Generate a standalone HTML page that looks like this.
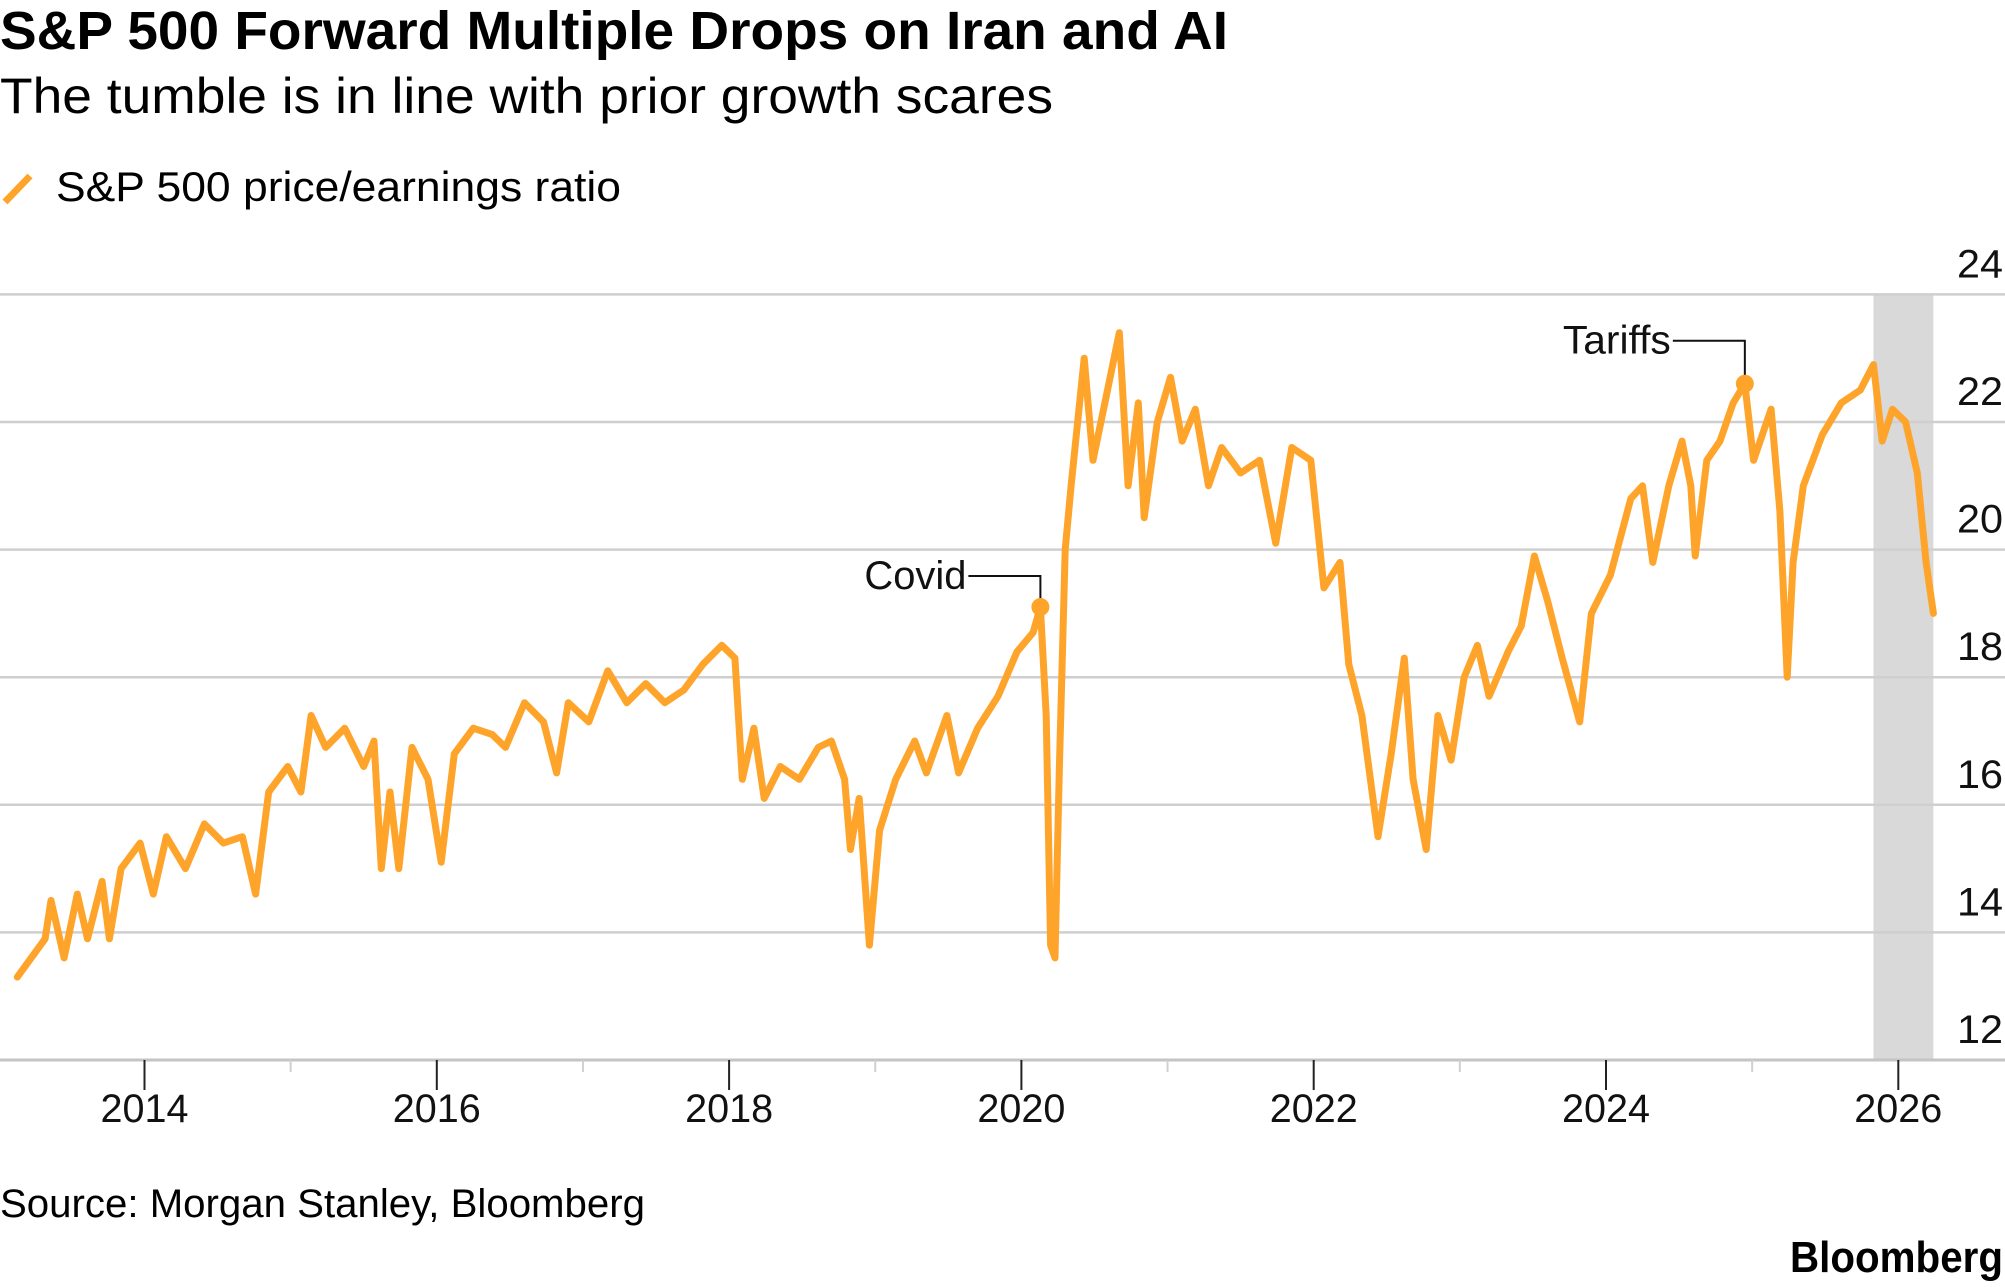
<!DOCTYPE html>
<html><head><meta charset="utf-8"><style>
html,body{margin:0;padding:0;background:#fff;}
svg{display:block;font-family:"Liberation Sans",sans-serif;}
</style></head><body>
<svg id="chart" width="2005" height="1287" viewBox="0 0 2005 1287">
<text x="0" y="49" font-size="54" font-weight="bold" textLength="1228" lengthAdjust="spacingAndGlyphs">S&amp;P 500 Forward Multiple Drops on Iran and AI</text>
<text x="0" y="113" font-size="50" textLength="1053" lengthAdjust="spacingAndGlyphs">The tumble is in line with prior growth scares</text>
<line x1="5" y1="202" x2="30" y2="176" stroke="#FFA42B" stroke-width="7"/>
<text x="56" y="201" font-size="42" textLength="565" lengthAdjust="spacingAndGlyphs">S&amp;P 500 price/earnings ratio</text>
<g id="grid"></g>
<g id="xaxis"></g>
<g id="series"></g>
<g id="annot"></g>
<text x="0" y="1217" font-size="40" textLength="645" lengthAdjust="spacingAndGlyphs">Source: Morgan Stanley, Bloomberg</text>
<text x="2003" y="1272" font-size="44" font-weight="bold" text-anchor="end" textLength="213" lengthAdjust="spacingAndGlyphs">Bloomberg</text>
</svg>
<script>
const dates=[2013.13,2013.32,2013.36,2013.45,2013.54,2013.61,2013.71,2013.76,2013.84,2013.97,2014.06,2014.15,2014.28,2014.41,2014.54,2014.67,2014.76,2014.85,2014.98,2015.07,2015.14,2015.24,2015.37,2015.50,2015.57,2015.62,2015.68,2015.74,2015.83,2015.94,2016.03,2016.12,2016.25,2016.38,2016.47,2016.60,2016.73,2016.82,2016.90,2017.04,2017.17,2017.30,2017.43,2017.56,2017.69,2017.82,2017.95,2018.04,2018.09,2018.17,2018.24,2018.35,2018.48,2018.61,2018.70,2018.79,2018.83,2018.89,2018.96,2019.03,2019.14,2019.27,2019.35,2019.49,2019.57,2019.70,2019.84,2019.97,2020.08,2020.13,2020.17,2020.20,2020.23,2020.26,2020.30,2020.34,2020.43,2020.49,2020.58,2020.67,2020.73,2020.80,2020.84,2020.93,2021.02,2021.10,2021.19,2021.28,2021.37,2021.50,2021.63,2021.74,2021.85,2021.98,2022.07,2022.18,2022.24,2022.33,2022.44,2022.53,2022.62,2022.68,2022.77,2022.85,2022.94,2023.03,2023.12,2023.20,2023.33,2023.42,2023.51,2023.60,2023.70,2023.82,2023.90,2024.03,2024.17,2024.25,2024.32,2024.43,2024.52,2024.58,2024.61,2024.69,2024.78,2024.87,2024.95,2025.01,2025.13,2025.19,2025.24,2025.28,2025.35,2025.48,2025.61,2025.74,2025.83,2025.89,2025.96,2026.05,2026.13,2026.19,2026.24];
const peRatio=[13.3,13.9,14.5,13.6,14.6,13.9,14.8,13.9,15.0,15.4,14.6,15.5,15.0,15.7,15.4,15.5,14.6,16.2,16.6,16.2,17.4,16.9,17.2,16.6,17.0,15.0,16.2,15.0,16.9,16.4,15.1,16.8,17.2,17.1,16.9,17.6,17.3,16.5,17.6,17.3,18.1,17.6,17.9,17.6,17.8,18.2,18.5,18.3,16.4,17.2,16.1,16.6,16.4,16.9,17.0,16.4,15.3,16.1,13.8,15.6,16.4,17.0,16.5,17.4,16.5,17.2,17.7,18.4,18.7,19.1,17.4,13.8,13.6,16.6,20.0,21.0,23.0,21.4,22.4,23.4,21.0,22.3,20.5,22.0,22.7,21.7,22.2,21.0,21.6,21.2,21.4,20.1,21.6,21.4,19.4,19.8,18.2,17.4,15.5,16.8,18.3,16.4,15.3,17.4,16.7,18.0,18.5,17.7,18.4,18.8,19.9,19.2,18.3,17.3,19.0,19.6,20.8,21.0,19.8,21.0,21.7,21.0,19.9,21.4,21.7,22.3,22.6,21.4,22.2,20.6,18.0,19.8,21.0,21.8,22.3,22.5,22.9,21.7,22.2,22.0,21.2,19.8,19.0];
const yTicks=[12,14,16,18,20,22,24];
const xTickYears=[2014,2016,2018,2020,2022,2024,2026];
const minorYears=[2015,2017,2019,2021,2023,2025];
const shadeRange=[2025.83,2026.24];
const annotations=[{label:"Covid",date:2020.13,value:19.1},{label:"Tariffs",date:2024.95,value:22.6}];

const NS="http://www.w3.org/2000/svg";
const X=yr=>144.5+(yr-2014)*146.15;
const Y=v=>1060-(v-12)*63.8;
function mk(tag,attrs,parent){const e=document.createElementNS(NS,tag);for(const k in attrs)e.setAttribute(k,attrs[k]);parent.appendChild(e);return e;}
const grid=document.getElementById('grid'),xa=document.getElementById('xaxis'),ser=document.getElementById('series'),an=document.getElementById('annot');

const sh=mk('rect',{x:X(shadeRange[0]),y:Y(24),width:X(shadeRange[1])-X(shadeRange[0]),height:Y(12)-Y(24),fill:'#d9d9d9'},grid);



yTicks.forEach(t=>{
  if(t>12){const l=mk('line',{x1:0,x2:2005,y1:Y(t),y2:Y(t),stroke:'#cfcfcf','stroke-width':2.5},grid);
  
  }
  const tx=mk('text',{x:2003,y:Y(t)-17,'font-size':40,'text-anchor':'end',fill:'#111',textLength:46,lengthAdjust:'spacingAndGlyphs'},grid);
  tx.textContent=t;
  
  
});
const ax=mk('line',{x1:0,x2:2005,y1:Y(12),y2:Y(12),stroke:'#c4c4c4','stroke-width':3},xa);


xTickYears.forEach(yr=>{
  const l=mk('line',{x1:X(yr),x2:X(yr),y1:Y(12),y2:Y(12)+30,stroke:'#222','stroke-width':2},xa);
  
  
  const t=mk('text',{x:X(yr),y:1122,'font-size':40,'text-anchor':'middle',fill:'#111',textLength:88,lengthAdjust:'spacingAndGlyphs'},xa);
  t.textContent=yr;
  
  
});
minorYears.forEach(yr=>{
  const l=mk('line',{x1:X(yr),x2:X(yr),y1:Y(12),y2:Y(12)+12,stroke:'#d0d0d0','stroke-width':2},xa);
  
  
});
let d='';
dates.forEach((yr,i)=>{d+=(i?'L':'M')+X(yr).toFixed(1)+','+Y(peRatio[i]).toFixed(1);});
const p=mk('path',{d:d,fill:'none',stroke:'#FFA42B','stroke-width':7,'stroke-linejoin':'round','stroke-linecap':'round'},ser);



annotations.forEach(a=>{
  const cx=X(a.date),cy=Y(a.value),ly=cy-31-(a.label==='Tariffs'?12:0);
  const lab=mk('text',{x:cx-74,y:ly+13,'font-size':40,'text-anchor':'end',fill:'#111',textLength:(a.label==='Covid'?102:108),lengthAdjust:'spacingAndGlyphs'},an);
  lab.textContent=a.label;
  
  
  const pl=mk('polyline',{points:`${cx-72},${ly} ${cx},${ly} ${cx},${cy}`,fill:'none',stroke:'#111','stroke-width':2},an);
  
  
  const c=mk('circle',{cx:cx,cy:cy,r:9,fill:'#FFA42B'},an);
  
  
});
</script>
</body></html>
